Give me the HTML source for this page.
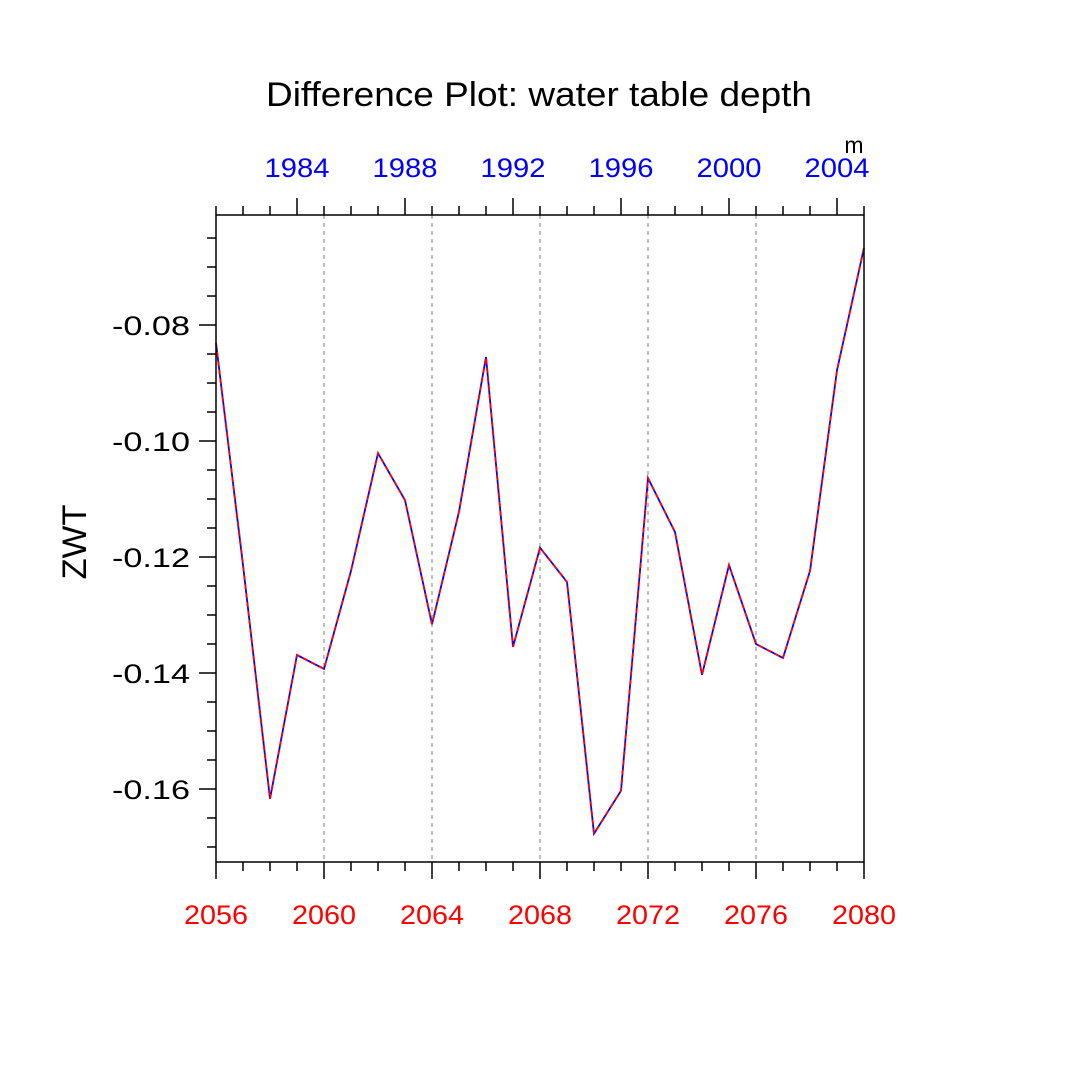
<!DOCTYPE html>
<html><head><meta charset="utf-8"><style>body{margin:0;background:#fff}svg{display:block}</style></head>
<body>
<svg id="chart" width="1080" height="1080" viewBox="0 0 1080 1080" font-family="Liberation Sans, sans-serif">
<text x="539" y="106" font-size="34" text-anchor="middle" textLength="546" lengthAdjust="spacingAndGlyphs">Difference Plot: water table depth</text>
<text x="854" y="153" font-size="23" text-anchor="middle">m</text>
<text transform="translate(86,542) rotate(-90)" font-size="34" text-anchor="middle" textLength="75" lengthAdjust="spacingAndGlyphs">ZWT</text>
<g id="grid"></g><g id="axes"></g><g id="series"></g>
<rect x="216" y="215" width="648" height="647" fill="none" stroke="#000" stroke-width="1.5"/>
</svg>
<script>
const years=[2056,2057,2058,2059,2060,2061,2062,2063,2064,2065,2066,2067,2068,2069,2070,2071,2072,2073,2074,2075,2076,2077,2078,2079,2080];
const zwt=[-0.0831,-0.1214,-0.1617,-0.1369,-0.1393,-0.1224,-0.1021,-0.1102,-0.1316,-0.1122,-0.0855,-0.1355,-0.1184,-0.1243,-0.1677,-0.1603,-0.1064,-0.1157,-0.1403,-0.1214,-0.1350,-0.1374,-0.1224,-0.0878,-0.0667];
const yTicks=[-0.08,-0.10,-0.12,-0.14,-0.16];
const yTickLabels=["-0.08","-0.10","-0.12","-0.14","-0.16"];
const xTicks=[2056,2060,2064,2068,2072,2076,2080];
const topTickLabels=["1984","1988","1992","1996","2000","2004"];
const topOffset=75;
const NS="http://www.w3.org/2000/svg";
const X0=216,X1=864,Y0=215,Y1=862,xmin=2056,xmax=2080,ymax=-0.06103,ymin=-0.17259;
const sx=v=>X0+(v-xmin)/(xmax-xmin)*(X1-X0);
const sy=v=>Y0+(ymax-v)/(ymax-ymin)*(Y1-Y0);
function mk(t,a,p){const e=document.createElementNS(NS,t);for(const k in a)e.setAttribute(k,a[k]);p.appendChild(e);return e;}
const grid=document.getElementById('grid'),axes=document.getElementById('axes'),series=document.getElementById('series');
xTicks.slice(1,-1).forEach(v=>{const l=mk('line',{x1:sx(v),x2:sx(v),y1:Y0,y2:Y1,stroke:'#aaa','stroke-width':1.5,'stroke-dasharray':'4 4'},grid);

});
for(let y=xmin;y<=xmax;y++){const maj=(y-xmin)%4===0;const L=maj?17:9;
mk('line',{x1:sx(y),x2:sx(y),y1:Y1,y2:Y1+L,stroke:'#000','stroke-width':1.5},axes);
const ty=(y-topOffset)%4===0;mk('line',{x1:sx(y),x2:sx(y),y1:Y0,y2:Y0-(ty?17:9),stroke:'#000','stroke-width':1.5},axes);}
xTicks.forEach(v=>{const t=mk('text',{x:sx(v),y:924,'font-size':27,'text-anchor':'middle',fill:'#f00',textLength:64,lengthAdjust:'spacingAndGlyphs'},axes);t.textContent=String(v);

});
topTickLabels.forEach(s=>{const t=mk('text',{x:sx(+s+topOffset),y:177,'font-size':27,'text-anchor':'middle',fill:'#00f',textLength:65,lengthAdjust:'spacingAndGlyphs'},axes);t.textContent=s;

});
for(let k=-34;k<=-13;k++){const v=k*0.005;if(v<ymin||v>ymax)continue;const maj=k%4===0;
mk('line',{x1:X0-(maj?17:9),x2:X0,y1:sy(v),y2:sy(v),stroke:'#000','stroke-width':1.5},axes);}
yTicks.forEach((v,i)=>{const t=mk('text',{x:190,y:sy(v)+10,'font-size':27,'text-anchor':'end',textLength:78,lengthAdjust:'spacingAndGlyphs'},axes);t.textContent=yTickLabels[i];

});
const pts=years.map((y,i)=>sx(y)+','+sy(zwt[i])).join(' ');
const b=mk('polyline',{points:pts,fill:'none',stroke:'#00f','stroke-width':1.8},series);


const r=mk('polyline',{points:pts,fill:'none',stroke:'#f00','stroke-width':1.8,'stroke-dasharray':'5 4'},series);


</script>
</body></html>
